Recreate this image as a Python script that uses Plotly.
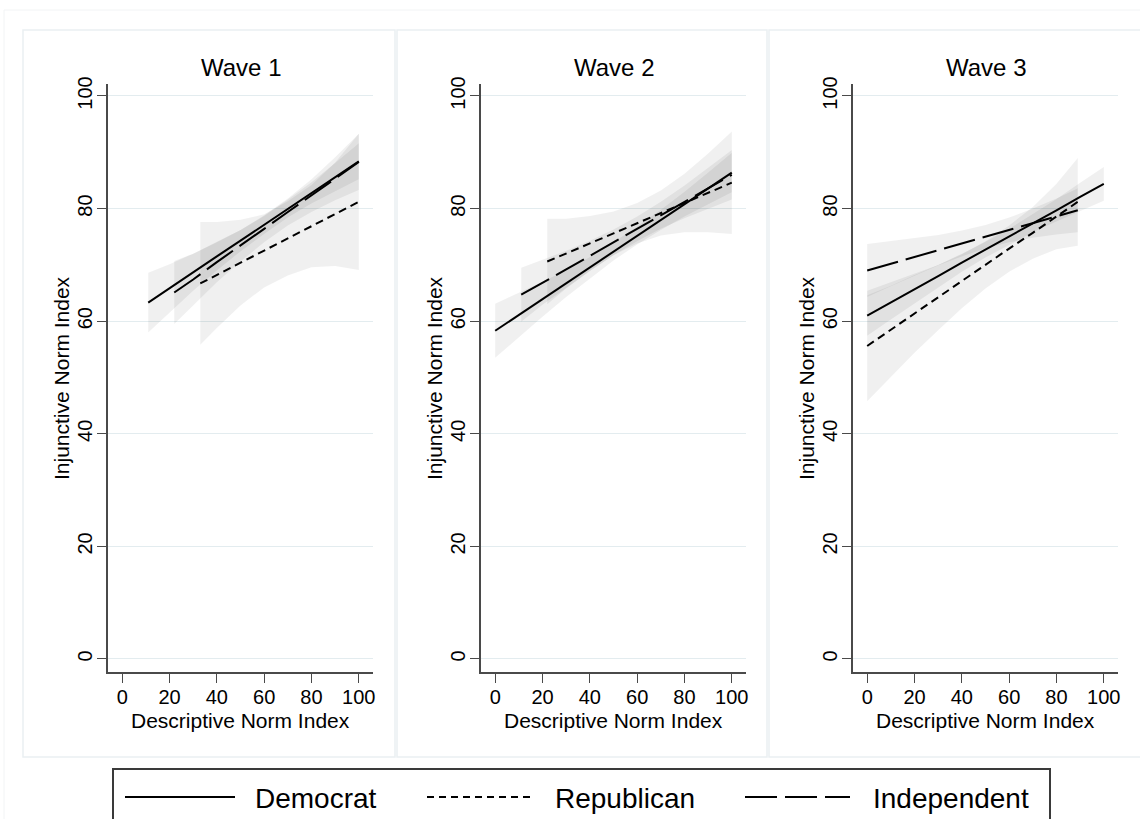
import plotly.graph_objects as go

# ---------------- data ----------------
waves = ["Wave 1", "Wave 2", "Wave 3"]
parties = ["Democrat", "Republican", "Independent"]
y_ticks = [0, 20, 40, 60, 80, 100]
x_ticks = [0, 20, 40, 60, 80, 100]

# Wave 1
w1_dem_x = [11, 20, 30, 40, 50, 60, 70, 80, 90, 100]
w1_dem_fit = [63.3, 65.8, 68.7, 71.5, 74.3, 77.1, 80.0, 82.8, 85.6, 88.4]
w1_dem_lo = [58.0, 61.5, 65.4, 69.0, 72.4, 75.5, 78.4, 80.9, 83.1, 85.2]
w1_dem_hi = [68.6, 70.1, 72.0, 74.0, 76.2, 78.7, 81.6, 84.7, 88.1, 91.6]

w1_ind_x = [22, 30, 40, 50, 60, 70, 80, 90, 100]
w1_ind_fit = [65.1, 67.4, 70.5, 73.4, 76.4, 79.4, 82.3, 85.3, 88.3]
w1_ind_lo = [59.5, 62.8, 66.9, 70.6, 74.0, 77.0, 79.4, 81.5, 83.3]
w1_ind_hi = [70.7, 72.0, 74.1, 76.2, 78.8, 81.8, 85.2, 89.1, 93.3]

w1_rep_x = [33, 40, 50, 60, 70, 80, 90, 100]
w1_rep_fit = [66.7, 68.2, 70.4, 72.5, 74.7, 76.9, 79.0, 81.2]
w1_rep_lo = [55.8, 58.8, 62.8, 66.0, 68.1, 69.6, 69.8, 69.1]
w1_rep_hi = [77.6, 77.6, 78.0, 79.0, 81.3, 84.2, 88.2, 93.3]

# Wave 2
w2_dem_x = [0, 10, 20, 30, 40, 50, 60, 70, 80, 90, 100]
w2_dem_fit = [58.3, 61.1, 63.9, 66.7, 69.5, 72.4, 75.2, 78.0, 80.8, 83.6, 86.4]
w2_dem_lo = [53.5, 57.2, 60.8, 64.3, 67.6, 70.8, 73.6, 76.2, 78.6, 80.8, 82.9]
w2_dem_hi = [63.1, 65.0, 67.0, 69.1, 71.4, 74.0, 76.8, 79.8, 83.0, 86.4, 89.9]

w2_ind_x = [11, 20, 30, 40, 50, 60, 70, 80, 90, 100]
w2_ind_fit = [64.7, 66.9, 69.2, 71.6, 74.0, 76.4, 78.8, 81.2, 83.6, 86.0]
w2_ind_lo = [59.9, 62.9, 65.9, 68.9, 71.7, 74.2, 76.4, 78.3, 80.0, 81.6]
w2_ind_hi = [69.5, 70.9, 72.5, 74.3, 76.3, 78.6, 81.2, 84.1, 87.2, 90.4]

w2_rep_x = [22, 30, 40, 50, 60, 70, 80, 90, 100]
w2_rep_fit = [70.6, 72.0, 73.8, 75.6, 77.4, 79.2, 81.0, 82.8, 84.6]
w2_rep_lo = [63.0, 65.8, 68.9, 71.7, 73.8, 75.2, 75.8, 75.8, 75.5]
w2_rep_hi = [78.2, 78.2, 78.7, 79.5, 81.0, 83.2, 86.2, 89.8, 93.7]

# Wave 3
w3_dem_x = [0, 10, 20, 30, 40, 50, 60, 70, 80, 90, 100]
w3_dem_fit = [61.0, 63.3, 65.7, 68.0, 70.4, 72.7, 75.0, 77.4, 79.7, 82.1, 84.4]
w3_dem_lo = [57.4, 60.3, 63.2, 66.0, 68.8, 71.3, 73.6, 75.8, 77.7, 79.6, 81.4]
w3_dem_hi = [64.6, 66.3, 68.2, 70.0, 72.0, 74.1, 76.4, 79.0, 81.7, 84.6, 87.4]

w3_ind_x = [0, 10, 20, 30, 40, 50, 60, 70, 80, 89]
w3_ind_fit = [69.0, 70.2, 71.4, 72.6, 73.8, 75.0, 76.2, 77.4, 78.6, 79.7]
w3_ind_lo = [64.3, 66.2, 68.1, 69.9, 71.5, 72.9, 74.0, 74.8, 75.4, 75.8]
w3_ind_hi = [73.7, 74.2, 74.7, 75.3, 76.1, 77.1, 78.4, 80.0, 81.8, 83.6]

w3_rep_x = [0, 10, 20, 30, 40, 50, 60, 70, 80, 89]
w3_rep_fit = [55.6, 58.5, 61.4, 64.2, 67.1, 70.0, 72.9, 75.7, 78.6, 81.2]
w3_rep_lo = [45.8, 50.1, 54.4, 58.4, 62.3, 65.8, 68.8, 71.1, 72.8, 73.4]
w3_rep_hi = [65.4, 66.9, 68.4, 70.0, 71.9, 74.2, 77.0, 80.3, 84.4, 89.0]

series = {
    0: {"Democrat": (w1_dem_x, w1_dem_fit, w1_dem_lo, w1_dem_hi),
        "Republican": (w1_rep_x, w1_rep_fit, w1_rep_lo, w1_rep_hi),
        "Independent": (w1_ind_x, w1_ind_fit, w1_ind_lo, w1_ind_hi)},
    1: {"Democrat": (w2_dem_x, w2_dem_fit, w2_dem_lo, w2_dem_hi),
        "Republican": (w2_rep_x, w2_rep_fit, w2_rep_lo, w2_rep_hi),
        "Independent": (w2_ind_x, w2_ind_fit, w2_ind_lo, w2_ind_hi)},
    2: {"Democrat": (w3_dem_x, w3_dem_fit, w3_dem_lo, w3_dem_hi),
        "Republican": (w3_rep_x, w3_rep_fit, w3_rep_lo, w3_rep_hi),
        "Independent": (w3_ind_x, w3_ind_fit, w3_ind_lo, w3_ind_hi)},
}

# ---------------- styles ----------------
W, H = 1140, 819
FONT = "Liberation Sans, Arial, sans-serif"
dash_style = {"Democrat": "solid", "Republican": "8px,5px", "Independent": "32px,8px"}
band_fill = "rgba(0,0,0,0.06)"
grid_col = "#e3ecef"
axis_col = "#4a4a4a"


def px(x):
    return x / W


def py(y):
    return 1 - y / H


# plot-area pixel extents for each panel
plot_left = [108, 481, 853]
plot_w = 265
plot_top, plot_bottom = 84, 672
panel_box = [(23, 395), (397, 767), (769, 1141)]

fig = go.Figure()

for i in range(3):
    sfx = "" if i == 0 else str(i + 1)
    xa, ya = "x" + sfx, "y" + sfx
    # bands first
    for p in ["Democrat", "Independent", "Republican"]:
        xs, fit, lo, hi = series[i][p]
        fig.add_trace(go.Scatter(
            x=list(xs) + list(xs)[::-1], y=list(hi) + list(lo)[::-1],
            fill="toself", fillcolor=band_fill, line=dict(width=0),
            mode="lines", hoverinfo="skip", showlegend=False,
            xaxis=xa, yaxis=ya))
    for p in parties:
        xs, fit, lo, hi = series[i][p]
        fig.add_trace(go.Scatter(
            x=xs, y=fit, mode="lines", name=p,
            line=dict(color="black", width=2, dash=dash_style[p]),
            showlegend=False, xaxis=xa, yaxis=ya))

layout = dict(
    width=W, height=H, margin=dict(l=0, r=0, t=0, b=0, pad=0, autoexpand=False),
    paper_bgcolor="white", plot_bgcolor="white", showlegend=False,
    font=dict(family=FONT, color="black"),
)

shapes = []
annotations = []
# outer faint frame
shapes.append(dict(type="rect", xref="paper", yref="paper",
                   x0=px(4), x1=px(1150), y0=py(10), y1=py(830),
                   line=dict(color="#f2f4f5", width=1), layer="below"))

for i in range(3):
    sfx = "" if i == 0 else str(i + 1)
    l = plot_left[i]
    layout["xaxis" + sfx] = dict(
        domain=[px(l), px(l + plot_w)], anchor="y" + sfx, automargin=False,
        range=[-6, 106], tickvals=x_ticks, ticks="outside", ticklen=9,
        tickwidth=1.3, tickcolor=axis_col, showline=True, linecolor=axis_col,
        linewidth=1.5, showgrid=False, zeroline=False, ticklabelstandoff=-3,
        tickfont=dict(size=20, family=FONT, color="black"))
    layout["yaxis" + sfx] = dict(
        domain=[py(plot_bottom), py(plot_top)], anchor="x" + sfx, automargin=False,
        range=[-2.31, 102.13], tickvals=y_ticks, ticks="outside", ticklen=9,
        tickwidth=1.3, tickcolor=axis_col, showline=True, linecolor=axis_col,
        linewidth=1.5, showgrid=True, gridcolor=grid_col, gridwidth=1.2,
        zeroline=False, tickangle=-90, ticklabelstandoff=-3,
        tickfont=dict(size=20, family=FONT, color="black"))
    # panel frame
    x0, x1 = panel_box[i]
    shapes.append(dict(type="rect", xref="paper", yref="paper",
                       x0=px(x0), x1=px(x1), y0=py(757), y1=py(30),
                       line=dict(color="#eaf0f2", width=1.5), layer="below"))
    cx = l + plot_w / 2
    annotations.append(dict(text=waves[i], xref="paper", yref="paper",
                            x=px(cx), y=py(67), xanchor="center", yanchor="middle",
                            showarrow=False, font=dict(size=24, family=FONT)))
    annotations.append(dict(text="Descriptive Norm Index", xref="paper", yref="paper",
                            x=px(cx), y=py(720), xanchor="center", yanchor="middle",
                            showarrow=False, font=dict(size=21, family=FONT)))
    annotations.append(dict(text="Injunctive Norm Index", xref="paper", yref="paper",
                            x=px(l - 47), y=py((plot_top + plot_bottom) / 2),
                            xanchor="center", yanchor="middle", textangle=-90,
                            showarrow=False, font=dict(size=21, family=FONT)))

# legend (drawn manually)
shapes.append(dict(type="rect", xref="paper", yref="paper",
                   x0=px(113), x1=px(1050), y0=py(850), y1=py(769),
                   line=dict(color="#3a3a3a", width=2), fillcolor="white"))
legend_items = [("Democrat", 125, 235, 253, "solid"),
                ("Republican", 427, 535, 553, "7px,5px"),
                ("Independent", 745, 850, 871, "32px,8px")]
for name, lx0, lx1, tx, dsh in legend_items:
    shapes.append(dict(type="line", xref="paper", yref="paper",
                       x0=px(lx0), x1=px(lx1), y0=py(797), y1=py(797),
                       line=dict(color="black", width=2, dash=dsh)))
    annotations.append(dict(text=name, xref="paper", yref="paper",
                            x=px(tx), y=py(798), xanchor="left", yanchor="middle",
                            showarrow=False, font=dict(size=28, family=FONT)))

layout["shapes"] = shapes
layout["annotations"] = annotations
fig.update_layout(**layout)
fig.write_html("out.html")
